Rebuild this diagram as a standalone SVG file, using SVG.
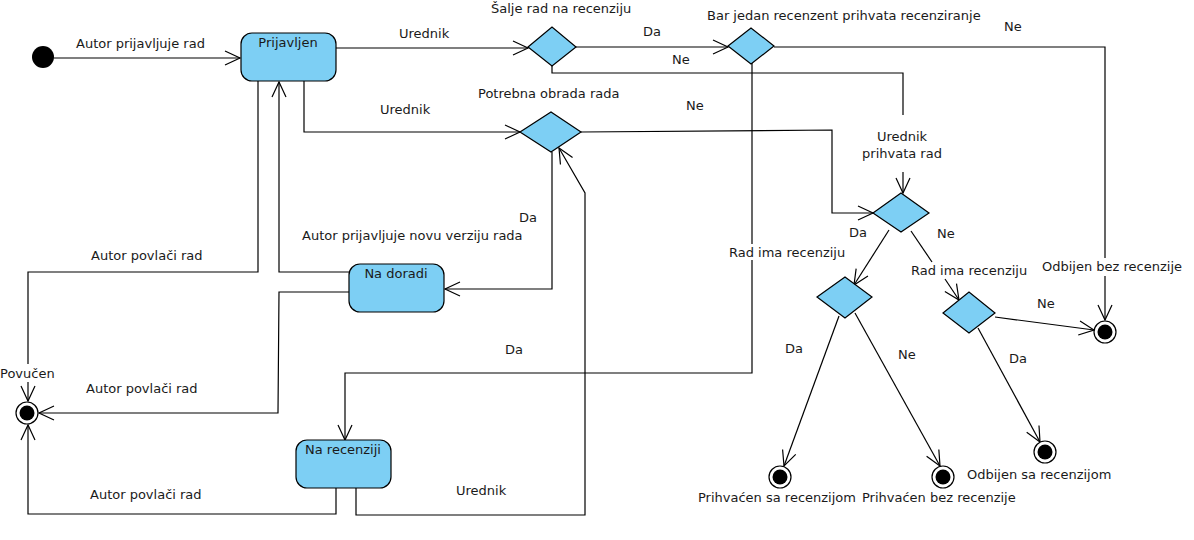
<svg xmlns="http://www.w3.org/2000/svg" width="1194" height="540" viewBox="0 0 1194 540">
<style>
text{font-family:"DejaVu Sans",sans-serif;font-size:13px;fill:#1a1a1a}
.st{fill:#7dcff4;stroke:#000;stroke-width:1.2}
.e path{fill:none;stroke:#000;stroke-width:1.2}
.m{text-anchor:middle}
</style>
<defs>
<marker id="a" viewBox="-17 -9 19 18" refX="0" refY="0" markerWidth="19" markerHeight="18" markerUnits="userSpaceOnUse" orient="auto"><path d="M-15,-7 L0,0 L-15,7" fill="none" stroke="#000" stroke-width="1.2"/></marker>
</defs>
<rect width="1194" height="540" fill="#fff"/>
<g class="e" id="connectors">
<path d="M54,58 H240" marker-end="url(#a)"/>
<path d="M336,48 H528" marker-end="url(#a)"/>
<path d="M576,47 H728" marker-end="url(#a)"/>
<path d="M774,47 H1105 V258"/>
<path d="M1105,276 V320" marker-end="url(#a)"/>
<path d="M552,66 V73 H903 V115"/>
<path d="M903,172 V193" marker-end="url(#a)"/>
<path d="M752,63 V244"/>
<path d="M752,260 V373 H345 V440" marker-end="url(#a)"/>
<path d="M304,81 V132 H520" marker-end="url(#a)"/>
<path d="M581,132 L832,130 V213 H873" marker-end="url(#a)"/>
<path d="M552,152 V289 H445" marker-end="url(#a)"/>
<path d="M349,272 H279 V82" marker-end="url(#a)"/>
<path d="M349,292 H279 L278,413 H39" marker-end="url(#a)"/>
<path d="M258,81 V272 H28 V364"/>
<path d="M28,382 V401" marker-end="url(#a)"/>
<path d="M336,488 V514 H28 V425" marker-end="url(#a)"/>
<path d="M356,488 V515 H585 V193 L559,148" marker-end="url(#a)"/>
<path d="M889,230 L854,285" marker-end="url(#a)"/>
<path d="M911,231 L932,262"/>
<path d="M945,279 L959,300" marker-end="url(#a)"/>
<path d="M839,316 L784,466" marker-end="url(#a)"/>
<path d="M855,313 L940,466" marker-end="url(#a)"/>
<path d="M978,328 L1040,442" marker-end="url(#a)"/>
<path d="M995,317 L1094,330" marker-end="url(#a)"/>
</g>
<g id="labels">
<text x="76" y="48">Autor prijavljuje rad</text>
<text x="399" y="37.5">Urednik</text>
<text x="491" y="13">Šalje rad na recenziju</text>
<text x="643" y="35.5">Da</text>
<text x="672" y="63.5">Ne</text>
<text x="707" y="19.5">Bar jedan recenzent prihvata recenziranje</text>
<text x="1004" y="31">Ne</text>
<text x="478" y="98">Potrebna obrada rada</text>
<text x="686" y="109.5">Ne</text>
<text x="380" y="113.5">Urednik</text>
<text x="902" y="140.5" class="m">Urednik</text>
<text x="902" y="157.5" class="m">prihvata rad</text>
<text x="519" y="221.5">Da</text>
<text x="302" y="239.5">Autor prijavljuje novu verziju rada</text>
<text x="91" y="259.5">Autor povlači rad</text>
<text x="849" y="236.5">Da</text>
<text x="937" y="237.5">Ne</text>
<text x="729" y="256.5">Rad ima recenziju</text>
<text x="911" y="274.5">Rad ima recenziju</text>
<text x="1042" y="270.5">Odbijen bez recenzije</text>
<text x="1037" y="307.5">Ne</text>
<text x="505" y="353.5">Da</text>
<text x="785" y="352.5">Da</text>
<text x="898" y="358.5">Ne</text>
<text x="1009" y="362.5">Da</text>
<text x="0" y="377.5">Povučen</text>
<text x="86" y="392.5">Autor povlači rad</text>
<text x="967" y="478.5">Odbijen sa recenzijom</text>
<text x="456" y="494.5">Urednik</text>
<text x="90" y="498.5">Autor povlači rad</text>
<text x="698" y="501.5">Prihvaćen sa recenzijom</text>
<text x="862" y="501.5">Prihvaćen bez recenzije</text>
</g>
<g id="start"><circle cx="43" cy="57" r="11" fill="#000"/></g>
<g id="prijavljen"><rect class="st" x="241" y="33" width="95" height="48" rx="11"/><text x="288" y="47" class="m">Prijavljen</text></g>
<g id="na-doradi"><rect class="st" x="349" y="264" width="95" height="48" rx="11"/><text x="396" y="277.5" class="m">Na doradi</text></g>
<g id="na-recenziji"><rect class="st" x="296" y="440" width="95" height="48" rx="11"/><text x="343" y="453.5" class="m">Na recenziji</text></g>
<g id="d-salje"><polygon class="st" points="528,47 552,27 576,47 552,66"/></g>
<g id="d-bar"><polygon class="st" points="728,46 751,28 774,46 751,64"/></g>
<g id="d-potrebna"><polygon class="st" points="520,132 551,112 581,132 551,152"/></g>
<g id="d-urednik"><polygon class="st" points="873,213 901,193 929,213 901,232"/></g>
<g id="d-a"><polygon class="st" points="817,297 845,277 872,297 845,318"/></g>
<g id="d-b"><polygon class="st" points="943,313 969,292 995,313 969,333"/></g>
<g id="f-povucen"><circle cx="27" cy="413" r="11" fill="#fff" stroke="#000" stroke-width="1.2"/><circle cx="27" cy="413" r="7.5" fill="#000"/></g>
<g id="f-odbijen-bez"><circle cx="1105" cy="332" r="11" fill="#fff" stroke="#000" stroke-width="1.2"/><circle cx="1105" cy="332" r="7.5" fill="#000"/></g>
<g id="f-prihvacen-sa"><circle cx="780" cy="477" r="11" fill="#fff" stroke="#000" stroke-width="1.2"/><circle cx="780" cy="477" r="7.5" fill="#000"/></g>
<g id="f-prihvacen-bez"><circle cx="943" cy="477" r="11" fill="#fff" stroke="#000" stroke-width="1.2"/><circle cx="943" cy="477" r="7.5" fill="#000"/></g>
<g id="f-odbijen-sa"><circle cx="1045" cy="452" r="11" fill="#fff" stroke="#000" stroke-width="1.2"/><circle cx="1045" cy="452" r="7.5" fill="#000"/></g>
</svg>
